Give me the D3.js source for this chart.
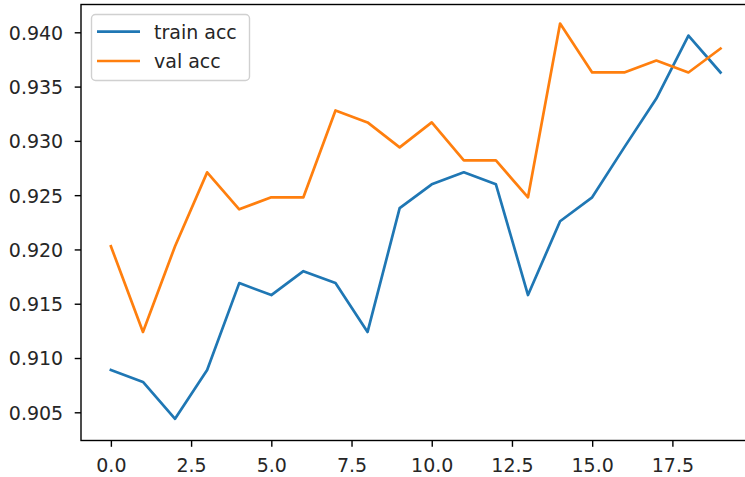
<!DOCTYPE html>
<html>
<head>
<meta charset="utf-8">
<script src="https://cdn.jsdelivr.net/npm/d3@7"></script>
<style>
  html, body { margin: 0; padding: 0; background: #fff; }
  svg { display: block; }
  text { font-family: "DejaVu Sans", sans-serif; fill: #262626; }
</style>
</head>
<body>
<svg id="chart" width="745" height="477"></svg>
<script>
// Accuracy per epoch
const epochs = d3.range(20);
const trainAcc = [0.9089, 0.9078, 0.9044, 0.9089, 0.9169, 0.9158, 0.9180, 0.9169, 0.9124, 0.9238,
                  0.9260, 0.9271, 0.9260, 0.9158, 0.9226, 0.9248, 0.9294, 0.9339, 0.9397, 0.9363];
const valAcc   = [0.9203, 0.9124, 0.9203, 0.9271, 0.9237, 0.9248, 0.9248, 0.9328, 0.9317, 0.9294,
                  0.9317, 0.9282, 0.9282, 0.9248, 0.9408, 0.9363, 0.9363, 0.9374, 0.9363, 0.9385];
const xTicks = [0, 2.5, 5, 7.5, 10, 12.5, 15, 17.5];
const yTicks = [0.905, 0.910, 0.915, 0.920, 0.925, 0.930, 0.935, 0.940];
const seriesNames = ["train acc", "val acc"];
const seriesColors = ["#1f77b4", "#ff7f0e"];

const svg = d3.select("#chart");
const plot = { left: 81, top: 4.5, right: 760, bottom: 440.5 };

const x = d3.scaleLinear().domain([-0.95, 19.95]).range([80.4, 751]);
const y = d3.scaleLinear().domain([0.905, 0.940]).range([412.3, 32.3]);

// Lines
const line = d3.line().x((d, i) => x(epochs[i])).y(d => y(d));
[trainAcc, valAcc].forEach((s, k) => {
  svg.append("path")
    .datum(s)
    .attr("d", line)
    .attr("fill", "none")
    .attr("stroke", seriesColors[k])
    .attr("stroke-width", 2.7)
    .attr("stroke-linejoin", "round")
    .attr("stroke-linecap", "square");
});

// Frame
svg.append("rect")
  .attr("x", plot.left).attr("y", plot.top)
  .attr("width", plot.right - plot.left).attr("height", plot.bottom - plot.top)
  .attr("fill", "none").attr("stroke", "#000").attr("stroke-width", 1.4);

// Axes
const xAxis = d3.axisBottom(x).tickValues(xTicks).tickFormat(d3.format(".1f"))
  .tickSize(6.3).tickPadding(7);
const gx = svg.append("g").attr("transform", `translate(0,${plot.bottom})`).call(xAxis);
gx.select(".domain").remove();
gx.selectAll(".tick line").attr("stroke", "#000").attr("stroke-width", 1.4);
gx.selectAll(".tick text").attr("font-size", 19).attr("dy", "0.95em")
  .style("font-family", "DejaVu Sans").attr("fill", "#262626");

const yAxis = d3.axisLeft(y).tickValues(yTicks).tickFormat(d3.format(".3f"))
  .tickSize(6.3).tickPadding(11.5);
const gy = svg.append("g").attr("transform", `translate(${plot.left},0)`).call(yAxis);
gy.select(".domain").remove();
gy.selectAll(".tick line").attr("stroke", "#000").attr("stroke-width", 1.4);
gy.selectAll(".tick text").attr("font-size", 19).attr("dy", "0.36em")
  .style("font-family", "DejaVu Sans").attr("fill", "#262626");

// Legend
const lg = svg.append("g");
lg.append("rect")
  .attr("x", 91.5).attr("y", 14.5).attr("width", 158).attr("height", 66).attr("rx", 4)
  .attr("fill", "#fff").attr("fill-opacity", 0.8)
  .attr("stroke", "#d0d0d0").attr("stroke-width", 1.4);
seriesNames.forEach((name, k) => {
  const cy = 31.7 + k * 29.3;
  lg.append("line")
    .attr("x1", 97).attr("x2", 140).attr("y1", cy).attr("y2", cy)
    .attr("stroke", seriesColors[k]).attr("stroke-width", 2.7);
  lg.append("text")
    .attr("x", 154).attr("y", cy).attr("dy", "0.36em")
    .attr("font-size", 19).text(name);
});
</script>
</body>
</html>
